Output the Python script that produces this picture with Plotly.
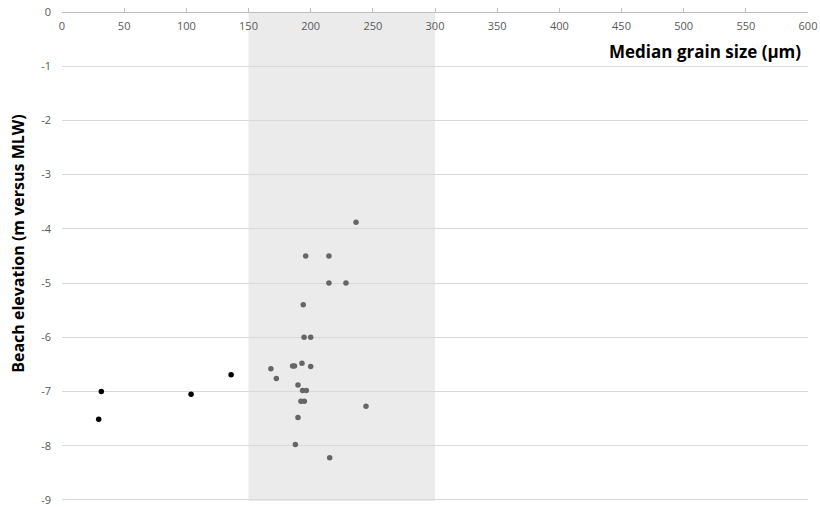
import plotly.graph_objects as go

# Data
gray_x = [236.5, 196, 214.7, 214.7, 228.4, 194, 194.7, 200, 168, 172.4, 185.5, 187, 193, 200,
          189.8, 193.5, 196.5, 192.2, 194.9, 244.5, 189.8, 187.7, 215.3]
gray_y = [-3.88, -4.5, -4.5, -5.0, -5.0, -5.4, -6.0, -6.0, -6.58, -6.76, -6.53, -6.53, -6.48, -6.54,
          -6.88, -6.98, -6.98, -7.18, -7.18, -7.27, -7.48, -7.98, -8.22]
black_x = [31.6, 29.5, 103.8, 136]
black_y = [-7.0, -7.51, -7.05, -6.69]
band = [150, 300]
x_ticks = list(range(0, 601, 50))
y_ticks = list(range(-9, 1))
y_tick_text = [str(v) for v in y_ticks]  # hyphen-minus, as in the reference

fig = go.Figure()
fig.add_shape(type="rect", xref="x", yref="paper", x0=band[0], x1=band[1], y0=0, y1=1,
              fillcolor="#ebebeb", line_width=0, layer="below")
fig.add_trace(go.Scatter(x=gray_x, y=gray_y, mode="markers",
                         marker=dict(color="#666666", size=5.5), showlegend=False,
                         cliponaxis=False))
fig.add_trace(go.Scatter(x=black_x, y=black_y, mode="markers",
                         marker=dict(color="#000000", size=5.5), showlegend=False,
                         cliponaxis=False))

fig.update_layout(
    width=820, height=507,
    margin=dict(l=62, r=12, t=12, b=6),
    plot_bgcolor="white", paper_bgcolor="white",
    font=dict(family="Open Sans, Liberation Sans, sans-serif", size=11, color="#595959"),
    xaxis=dict(range=[0, 600], tickvals=x_ticks, showgrid=False, zeroline=False,
               anchor="free", position=1, side="bottom", showline=True, linecolor="#bfbfbf",
               ticks="inside", ticklen=4, tickcolor="#bfbfbf", automargin=False,
               ticklabelstandoff=4, ticklabeloverflow="allow",
               tickfont=dict(size=11, color="#595959")),
    yaxis=dict(range=[-9.02, 0], tickvals=y_ticks, ticktext=y_tick_text, showgrid=True,
               gridcolor="#d9d9d9", gridwidth=1, automargin=False,
               zeroline=False, showline=False, ticks="", ticklabelstandoff=10,
               ticklabeloverflow="allow", tickfont=dict(size=11, color="#595959")),
    annotations=[
        dict(text="<b>Median grain size (µm)</b>", xref="paper", yref="paper", x=1.0, y=1,
             xshift=-5, yshift=-39, xanchor="right", yanchor="middle", showarrow=False,
             font=dict(size=17, color="#000000")),
        dict(text="<b>Beach elevation (m versus MLW)</b>", xref="paper", yref="paper", x=0,
             xshift=-44, y=0.526, xanchor="center", yanchor="middle", textangle=-90, showarrow=False,
             font=dict(size=16, color="#000000")),
    ],
)
fig.write_html("out.html", config={"displayModeBar": False},
               post_script="document.body.style.margin='0';")
